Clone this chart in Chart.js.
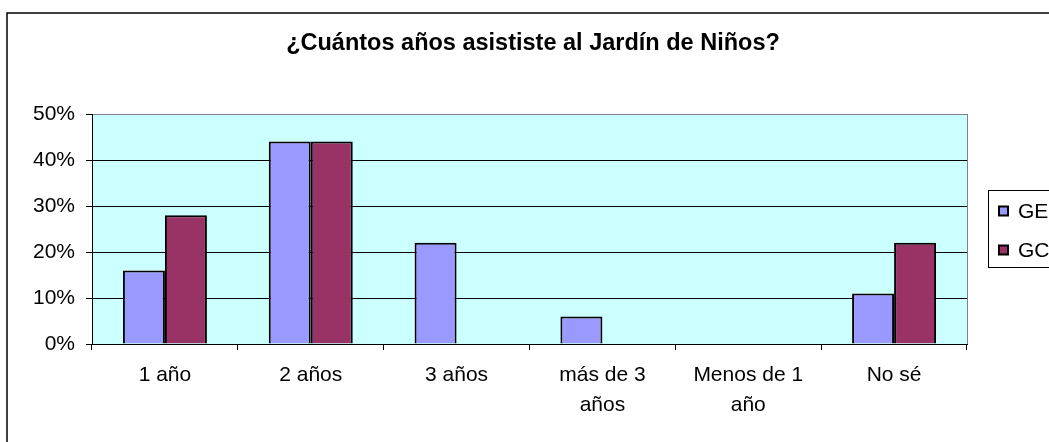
<!DOCTYPE html>
<html>
<head>
<meta charset="utf-8">
<script src="https://cdn.jsdelivr.net/npm/chart.js@4/dist/chart.umd.min.js"></script>
<style>
  html, body { margin: 0; padding: 0; background: #fff; overflow: hidden; }
  #wrap { width: 1049px; height: 442px; position: relative; }
</style>
</head>
<body>
<div id="wrap"><canvas id="c" width="1049" height="442"></canvas></div>
<script>
const titleText = '¿Cuántos años asististe al Jardín de Niños?';
const categories = ['1 año', '2 años', '3 años', ['más de 3', 'años'], ['Menos de 1', 'año'], 'No sé'];
const seriesNames = ['GE', 'GC'];
const geValues = [16, 44, 22, 6, 0, 11];
const gcValues = [28, 44, 0, 0, 0, 22];
const yTicks = [0, 10, 20, 30, 40, 50];
const colors = ['#9999FF', '#993366'];

const FONT = "'Liberation Sans', Arial, sans-serif";

const framePlugin = {
  id: 'frame',
  beforeDraw(chart) {
    const { ctx, chartArea: a } = chart;
    ctx.save();
    ctx.fillStyle = '#FFFFFF';
    ctx.fillRect(0, 0, chart.width, chart.height);
    ctx.fillStyle = '#CCFFFF';
    ctx.fillRect(a.left, a.top, a.right - a.left, a.bottom - a.top);
    ctx.restore();
  },
  afterDraw(chart) {
    const { ctx, chartArea: a } = chart;
    ctx.save();
    // right plot border
    ctx.strokeStyle = '#808080';
    ctx.lineWidth = 1;
    ctx.beginPath();
    ctx.moveTo(a.right + 0.5, a.top);
    ctx.lineTo(a.right + 0.5, a.bottom);
    ctx.stroke();
    // outer frame
    ctx.strokeStyle = '#000';
    ctx.lineWidth = 1.5;
    ctx.strokeRect(7, 13, 1200, 600);
    // legend
    ctx.lineWidth = 1;
    ctx.strokeStyle = '#000';
    ctx.strokeRect(988.5, 190.5, 200, 77);
    ctx.font = '21px ' + FONT;
    ctx.textBaseline = 'middle';
    ctx.textAlign = 'left';
    const ys = [211, 250];
    chart.data.datasets.forEach((ds, i) => {
      ctx.fillStyle = ds.backgroundColor;
      ctx.fillRect(999, ys[i] - 4.5, 9, 9);
      ctx.lineWidth = 2;
      ctx.strokeStyle = '#000';
      ctx.strokeRect(999, ys[i] - 4.5, 9, 9);
      ctx.fillStyle = '#000';
      ctx.fillText(ds.label, 1018, ys[i] + 1);
    });
    ctx.restore();
  }
};

new Chart(document.getElementById('c'), {
  type: 'bar',
  data: {
    labels: categories,
    datasets: [
      { label: seriesNames[0], data: geValues, backgroundColor: colors[0], borderColor: '#000', borderWidth: 2 },
      { label: seriesNames[1], data: gcValues, backgroundColor: colors[1], borderColor: '#000', borderWidth: 2 }
    ]
  },
  options: {
    responsive: false,
    animation: false,
    layout: { padding: { left: 17, right: 0, top: 0, bottom: 0 } },
    datasets: { bar: { categoryPercentage: 0.576, barPercentage: 1.0 } },
    plugins: {
      legend: { display: false },
      tooltip: { enabled: false },
      title: {
        display: true,
        text: titleText,
        color: '#000',
        font: { family: FONT, size: 23.5, weight: 'bold', lineHeight: 1.2 },
        padding: { top: 29, bottom: 56.8 }
      }
    },
    scales: {
      x: {
        grid: { drawOnChartArea: false, drawTicks: true, tickLength: 6, color: '#000', offset: true },
        border: { color: '#000', width: 1 },
        ticks: { color: '#000', font: { family: FONT, size: 21, lineHeight: 1.43 }, padding: 10, maxRotation: 0, autoSkip: false },
        afterFit(s) { s.height = 98; }
      },
      y: {
        min: 0, max: 50,
        afterBuildTicks(s) { s.ticks = yTicks.map(v => ({ value: v })); },
        grid: {
          color: (c) => (c.tick && c.tick.value === 50 ? '#808080' : '#000'),
          tickColor: '#000', tickLength: 6, lineWidth: 1
        },
        border: { color: '#000', width: 1 },
        ticks: { color: '#000', font: { family: FONT, size: 21 }, padding: 11, callback: (v) => v + '%' },
        afterFit(s) { s.width = 75; }
      },
      yRight: {
        position: 'right',
        display: true,
        min: 0, max: 50,
        grid: { display: false, drawTicks: false },
        border: { display: false },
        ticks: { display: false },
        afterFit(s) { s.width = 82; }
      }
    }
  },
  plugins: [framePlugin]
});
</script>
</body>
</html>
